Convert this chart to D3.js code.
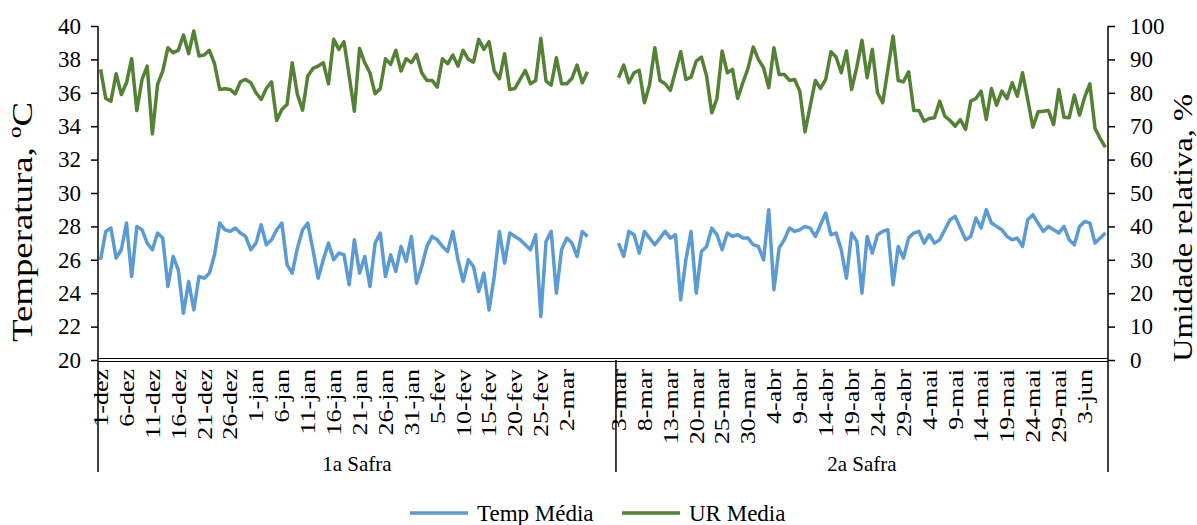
<!DOCTYPE html>
<html>
<head>
<meta charset="utf-8">
<script src="https://cdn.jsdelivr.net/npm/d3@7"></script>
<style>
  body { margin: 0; background: #fff; }
</style>
</head>
<body>
<script>
var svgWidth = 1197;
var svgHeight = 525;

var margin = { top: 26, right: 89, bottom: 165, left: 98 };
var chartWidth = svgWidth - margin.left - margin.right;
var chartHeight = svgHeight - margin.top - margin.bottom;

// groups on the category axis (number of slots each)
var groupNames = ["1a Safra", "2a Safra"];
var groupSizes = [100, 95];

// tick labels, one every 5 categories inside each group
var tickLabels1 = ["1-dez", "6-dez", "11-dez", "16-dez", "21-dez", "26-dez", "1-jan", "6-jan",
    "11-jan", "16-jan", "21-jan", "26-jan", "31-jan", "5-fev", "10-fev", "15-fev", "20-fev",
    "25-fev", "2-mar"];
var tickLabels2 = ["3-mar", "8-mar", "13-mar", "20-mar", "25-mar", "30-mar", "4-abr", "9-abr",
    "14-abr", "19-abr", "24-abr", "29-abr", "4-mai", "9-mai", "14-mai", "19-mai", "24-mai",
    "29-mai", "3-jun"];

// Temp Média, °C
var temp1 = [26.0, 27.7, 27.9, 26.1, 26.6, 28.2, 25.0, 28.0, 27.8, 27.0,
    26.6, 27.6, 27.3, 24.4, 26.2, 25.4, 22.8, 24.7, 23.0, 25.0,
    24.9, 25.2, 26.3, 28.2, 27.8, 27.7, 27.9, 27.6, 27.4, 26.6,
    27.0, 28.1, 26.9, 27.2, 27.8, 28.2, 25.7, 25.2, 26.7, 27.8,
    28.2, 26.6, 24.9, 26.0, 27.0, 26.0, 26.4, 26.3, 24.5, 27.2,
    25.2, 26.2, 24.4, 27.0, 27.6, 25.0, 26.3, 25.3, 26.8, 25.9,
    27.4, 24.6, 25.6, 26.8, 27.4, 27.2, 26.8, 26.5, 27.7, 26.0,
    24.7, 26.0, 25.6, 24.1, 25.2, 23.0, 25.0, 27.7, 25.8, 27.6,
    27.4, 27.2, 26.9, 26.6, 27.5, 22.6, 27.1, 27.7, 24.0, 26.6,
    27.3, 27.0, 26.2, 27.7, 27.4];
var temp2 = [27.0, 26.2, 27.7, 27.5, 26.4, 27.7, 27.3, 26.9, 27.3, 27.7,
    27.3, 27.5, 23.6, 26.0, 27.7, 24.0, 26.5, 26.8, 27.9, 27.5,
    26.6, 27.6, 27.4, 27.5, 27.3, 27.3, 26.9, 26.8, 26.0, 29.0,
    24.2, 26.7, 27.2, 27.9, 27.7, 27.8, 28.0, 27.9, 27.4, 28.1,
    28.8, 27.5, 27.6, 26.6, 24.9, 27.6, 27.1, 24.0, 27.4, 26.4,
    27.5, 27.7, 27.8, 24.5, 26.8, 26.1, 27.3, 27.6, 27.7, 27.0,
    27.5, 27.0, 27.2, 27.8, 28.4, 28.6, 27.9, 27.2, 27.4, 28.5,
    27.9, 29.0, 28.2, 28.0, 27.8, 27.4, 27.2, 27.3, 26.8, 28.4,
    28.7, 28.2, 27.7, 28.0, 27.8, 27.6, 28.0, 27.2, 26.9, 28.0,
    28.3, 28.2, 27.0, 27.3, 27.6];

// UR Media, %
var ur1 = [87.0, 78.3, 77.5, 85.7, 79.5, 83.0, 90.2, 74.7, 84.0, 88.0,
    67.7, 82.5, 86.5, 93.5, 92.0, 92.7, 97.3, 91.7, 98.5, 91.0,
    91.3, 92.7, 88.7, 81.0, 81.2, 81.0, 79.7, 83.3, 84.0, 83.0,
    80.0, 78.0, 81.3, 83.3, 71.7, 75.0, 76.5, 89.0, 79.5, 74.8,
    85.0, 87.3, 88.0, 89.0, 82.7, 96.0, 93.0, 95.3, 85.0, 74.5,
    93.3, 89.0, 86.0, 79.7, 81.3, 90.2, 88.5, 92.7, 86.5, 90.2,
    89.0, 91.5, 86.0, 83.7, 83.7, 81.7, 90.2, 88.7, 91.3, 88.0,
    92.7, 90.0, 89.2, 96.0, 93.0, 95.3, 86.5, 84.2, 91.7, 81.0,
    81.3, 84.0, 86.7, 82.7, 83.7, 96.3, 83.5, 82.3, 90.5, 82.7,
    82.7, 84.3, 88.3, 83.0, 86.3];
var ur2 = [84.5, 88.3, 83.0, 86.0, 86.7, 77.0, 82.5, 93.5, 83.7, 82.7,
    80.7, 86.5, 92.3, 84.0, 84.7, 89.5, 90.7, 85.0, 74.0, 78.3,
    92.5, 86.0, 87.0, 78.3, 83.0, 87.3, 93.7, 90.0, 87.5, 81.5,
    93.5, 85.5, 85.5, 83.7, 84.0, 80.5, 68.3, 76.0, 83.7, 81.3,
    84.0, 92.3, 90.7, 86.0, 92.5, 81.0, 87.7, 95.7, 84.5, 93.0,
    80.0, 77.0, 87.0, 97.0, 83.7, 83.3, 86.3, 74.7, 74.7, 71.5,
    72.3, 72.5, 77.5, 73.0, 71.7, 70.0, 72.0, 69.0, 77.5, 78.3,
    80.5, 72.0, 81.3, 76.3, 80.5, 78.3, 83.0, 79.0, 86.0, 78.0,
    69.7, 74.3, 74.5, 74.7, 70.5, 81.0, 72.7, 72.5, 79.3, 73.3,
    78.7, 82.7, 69.3, 66.3, 63.7];

var tempTicks = d3.range(20, 41, 2);
var urTicks = d3.range(0, 101, 10);

var blue = "#5b9bd5";
var green = "#548235";
var fontStack = '"Liberation Serif", "Times New Roman", serif';

// put both groups on one run of slots, empty slots are null
var nSlots = d3.sum(groupSizes);
function fill(values, size) {
    var out = values.slice();
    while (out.length < size) out.push(null);
    return out;
}
var tempAll = fill(temp1, groupSizes[0]).concat(fill(temp2, groupSizes[1]));
var urAll = fill(ur1, groupSizes[0]).concat(fill(ur2, groupSizes[1]));

var svg = d3.select("body")
    .append("svg")
    .attr("width", svgWidth)
    .attr("height", svgHeight)
    .style("font-family", fontStack);

var chartGroup = svg.append("g")
    .attr("transform", `translate(${margin.left}, ${margin.top})`);

var xBand = d3.scaleBand()
    .domain(d3.range(nSlots))
    .range([0, chartWidth]);

var yTemp = d3.scaleLinear().domain([20, 40]).range([chartHeight, 0]);
var yUr = d3.scaleLinear().domain([0, 100]).range([chartHeight, 0]);

function xc(i) { return xBand(i) + xBand.bandwidth() / 2; }

// left axis
var leftAxis = d3.axisLeft(yTemp).tickValues(tempTicks).tickSize(7).tickPadding(10);
var gl = chartGroup.append("g").call(leftAxis);
gl.select(".domain").remove();
gl.selectAll(".tick line").attr("stroke", "#000").attr("stroke-width", 1.5);
gl.selectAll(".tick text").style("font-family", fontStack).style("font-size", "23px").attr("fill", "#000");

// right axis
var rightAxis = d3.axisRight(yUr).tickValues(urTicks).tickSize(7).tickPadding(15);
var gr = chartGroup.append("g").attr("transform", `translate(${chartWidth}, 0)`).call(rightAxis);
gr.select(".domain").remove();
gr.selectAll(".tick line").attr("stroke", "#000").attr("stroke-width", 1.5);
gr.selectAll(".tick text").style("font-family", fontStack).style("font-size", "23px").attr("fill", "#000");

// category axis line (double rule)
[-1.5, 1.5].forEach(function(off) {
    chartGroup.append("line")
        .attr("x1", 0).attr("x2", chartWidth)
        .attr("y1", chartHeight + off).attr("y2", chartHeight + off)
        .attr("stroke", "#000").attr("stroke-width", 1.2);
});

// vertical lines: plot edges and the group divider, going down through the label rows
var groupStarts = [0, groupSizes[0]];
var edgeX = [0, xBand(groupSizes[0]), chartWidth];
edgeX.forEach(function(xv, k) {
    chartGroup.append("line")
        .attr("x1", xv).attr("x2", xv)
        .attr("y1", (k === 1) ? chartHeight : 0)
        .attr("y2", chartHeight + 112)
        .attr("stroke", "#000").attr("stroke-width", 1.5);
});

// rotated date labels (stretched along their length like the original)
var tickRows = [tickLabels1, tickLabels2];
tickRows.forEach(function(labels, g) {
    labels.forEach(function(lab, k) {
        var i = groupStarts[g] + k * 5;
        chartGroup.append("text")
            .attr("transform", `translate(${xc(i)}, ${chartHeight + 9}) rotate(-90) scale(1.24, 1)`)
            .attr("dy", "0.35em")
            .attr("text-anchor", "end")
            .style("font-family", fontStack)
            .style("font-size", "21px")
            .text(lab);
    });
});

// group names
groupNames.forEach(function(name, g) {
    var x0 = xBand(groupStarts[g]);
    var x1 = g === 0 ? xBand(groupSizes[0]) : chartWidth;
    chartGroup.append("text")
        .attr("x", (x0 + x1) / 2)
        .attr("y", chartHeight + 111)
        .attr("text-anchor", "middle")
        .style("font-family", fontStack)
        .style("font-size", "21px")
        .text(name);
});

// lines
var tempLine = d3.line()
    .defined(d => d != null)
    .x((d, i) => xc(i))
    .y(d => yTemp(d));
var urLine = d3.line()
    .defined(d => d != null)
    .x((d, i) => xc(i))
    .y(d => yUr(d));

chartGroup.append("path")
    .datum(tempAll)
    .attr("fill", "none")
    .attr("stroke", blue)
    .attr("stroke-width", 3.5)
    .attr("stroke-linejoin", "round")
    .attr("d", tempLine);

chartGroup.append("path")
    .datum(urAll)
    .attr("fill", "none")
    .attr("stroke", green)
    .attr("stroke-width", 3.5)
    .attr("stroke-linejoin", "round")
    .attr("d", urLine);

// axis titles
svg.append("text")
    .attr("transform", "translate(32, 222) rotate(-90)")
    .attr("text-anchor", "middle")
    .attr("textLength", 240)
    .attr("lengthAdjust", "spacingAndGlyphs")
    .style("font-family", fontStack)
    .style("font-size", "30px")
    .text("Temperatura, ºC");

svg.append("text")
    .attr("transform", "translate(1192, 228) rotate(-90)")
    .attr("text-anchor", "middle")
    .attr("textLength", 268)
    .attr("lengthAdjust", "spacingAndGlyphs")
    .style("font-family", fontStack)
    .style("font-size", "27px")
    .text("Umidade relativa, %");

// legend
var legend = [
    { name: "Temp Média", color: blue, x: 410 },
    { name: "UR Media", color: green, x: 622 }
];
legend.forEach(function(d) {
    svg.append("line")
        .attr("x1", d.x).attr("x2", d.x + 58)
        .attr("y1", 513).attr("y2", 513)
        .attr("stroke", d.color).attr("stroke-width", 3.5);
    svg.append("text")
        .attr("x", d.x + 67)
        .attr("y", 521)
        .style("font-family", fontStack)
        .style("font-size", "23px")
        .text(d.name);
});
</script>
</body>
</html>
